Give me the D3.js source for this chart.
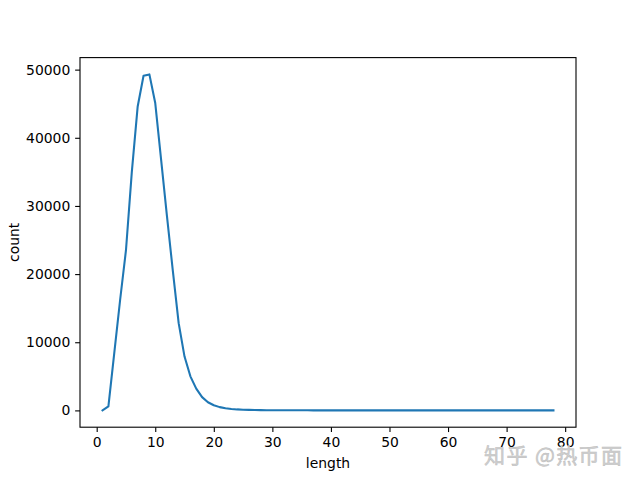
<!DOCTYPE html>
<html>
<head>
<meta charset="utf-8">
<script src="https://cdn.jsdelivr.net/npm/d3@7/dist/d3.min.js"></script>
<style>
  body { margin: 0; background: #fff; }
  svg { display: block; }
</style>
</head>
<body>
<svg id="chart" width="640" height="480"></svg>
<script>
const lengths = d3.range(1, 79);
const counts = [
  0, 600, 8400, 16200, 23500, 35000, 44600, 49100, 49300, 45100,
  36800, 28500, 20500, 12800, 7900, 5000, 3200, 1950, 1200, 750,
  480, 320, 215, 145, 100, 72, 54, 42, 34, 28,
  23, 19, 16, 14, 12, 10, 9, 8, 7, 6,
  6, 5, 5, 4, 4, 4, 3, 3, 3, 3,
  2, 2, 2, 2, 2, 2, 2, 1, 1, 1,
  1, 1, 1, 1, 1, 1, 1, 1, 1, 1,
  1, 1, 1, 1, 1, 1, 1, 1
];
const xTicks = [0, 10, 20, 30, 40, 50, 60, 70, 80];
const yTicks = [0, 10000, 20000, 30000, 40000, 50000];
const xLabel = "length";
const yLabel = "count";
const watermark = "知乎 @热币面";

const data = lengths.map((l, i) => ({ x: l, y: counts[i] }));

const mLeft = 80, mRight = 576, mTop = 57.6, mBottom = 427.2;

const xMin = d3.min(lengths), xMax = d3.max(lengths);
const xPad = (xMax - xMin) * 0.05;
const yMin = d3.min(counts), yMax = d3.max(counts);
const yPad = (yMax - yMin) * 0.05;

const x = d3.scaleLinear().domain([xMin - xPad, xMax + xPad]).range([mLeft, mRight]);
const y = d3.scaleLinear().domain([yMin - yPad, yMax + yPad]).range([mBottom, mTop]);

const svg = d3.select("#chart");
const font = "DejaVu Sans, sans-serif";
const fs = 13.9;
const tickLen = 4.86;

// line
svg.append("path")
  .datum(data)
  .attr("fill", "none")
  .attr("stroke", "#1f77b4")
  .attr("stroke-width", 2.08)
  .attr("stroke-linejoin", "round")
  .attr("stroke-linecap", "square")
  .attr("d", d3.line().x(d => x(d.x)).y(d => y(d.y)));

// axes
const xAxis = d3.axisBottom(x).tickValues(xTicks).tickSize(tickLen).tickPadding(4.86).tickFormat(d3.format("d"));
const yAxis = d3.axisLeft(y).tickValues(yTicks).tickSize(tickLen).tickPadding(4.86).tickFormat(d3.format("d"));

const gx = svg.append("g").attr("transform", `translate(0,${mBottom})`).call(xAxis);
const gy = svg.append("g").attr("transform", `translate(${mLeft},0)`).call(yAxis);
[gx, gy].forEach(g => {
  g.select(".domain").remove();
  g.selectAll(".tick line").attr("stroke", "#000").attr("stroke-width", 1.1);
  g.selectAll(".tick text").attr("fill", "#000").style("font-family", font).style("font-size", fs + "px");
});

// spines
svg.append("rect")
  .attr("x", mLeft).attr("y", mTop)
  .attr("width", mRight - mLeft).attr("height", mBottom - mTop)
  .attr("fill", "none").attr("stroke", "#000").attr("stroke-width", 1.1);

// axis labels
svg.append("text")
  .attr("x", (mLeft + mRight) / 2).attr("y", 468)
  .attr("text-anchor", "middle")
  .style("font-family", font).style("font-size", fs + "px")
  .text(xLabel);

svg.append("text")
  .attr("transform", `translate(19,${(mTop + mBottom) / 2}) rotate(-90)`)
  .attr("text-anchor", "middle")
  .style("font-family", font).style("font-size", fs + "px")
  .text(yLabel);

// watermark
svg.append("text")
  .attr("x", 484).attr("y", 463)
  .style("font-family", "Noto Sans CJK SC, sans-serif")
  .style("font-size", "21px")
  .attr("fill", "#d0d0d0")
  .attr("stroke", "#bdbdbd")
  .attr("stroke-width", 0.5)
  .attr("textLength", 138)
  .text(watermark);
</script>
</body>
</html>
